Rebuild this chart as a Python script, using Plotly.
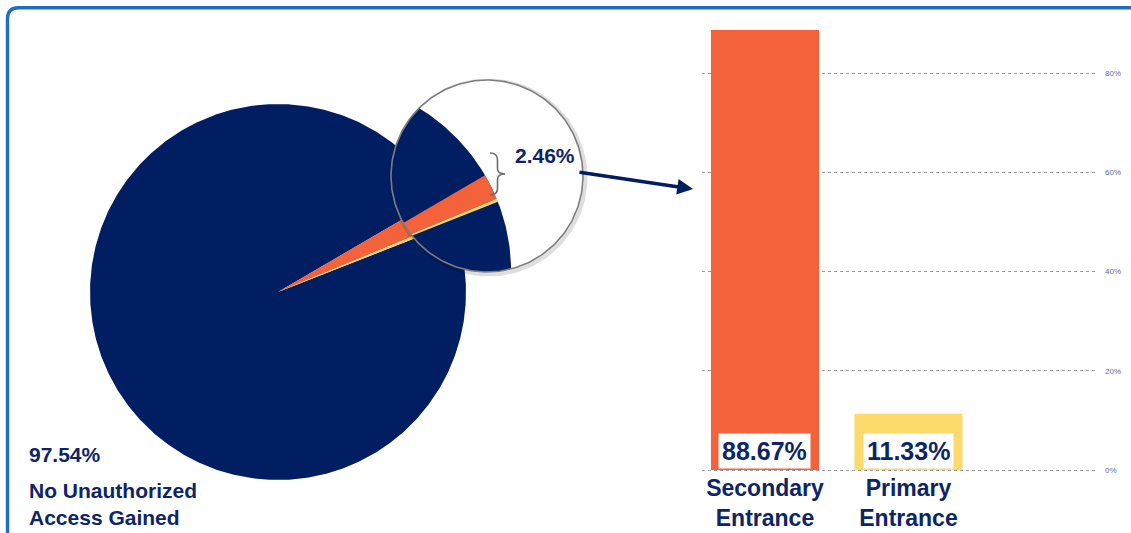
import math
import plotly.graph_objects as go

# ---- data -------------------------------------------------------------
pie_labels = ["No Unauthorized Access Gained", "Unauthorized Access Gained"]
pie_values = [97.54, 2.46]

entry_labels = ["Secondary<br>Entrance", "Primary<br>Entrance"]
entry_values = [88.67, 11.33]

y_ticks = [0, 20, 40, 60, 80]
y_tick_text = ["0%", "20%", "40%", "60%", "80%"]

# ---- styling ----------------------------------------------------------
NAVY = "#011e62"
TEXT_NAVY = "#0d2466"
ORANGE = "#f3623a"
YELLOW = "#fdda6c"
BORDER = "#1c6fc1"
FONT = "Liberation Sans"

W, H = 1131, 533


def Y(py):
    """Screen row -> value on the full-page helper axis (y grows upward)."""
    return H - py


# pie placement on the helper axis (1 unit = 1 px)
CX, CY, R = 278, Y(292), 188
WEDGE_TOP = 30.3          # angle of the upper edge of the small wedge (deg)
# inset circle that shows the small wedge pulled out
LX, LY, LR = 487, Y(176), 96
PULL, LENS_SCALE = 46, 1.02


def arc(cx, cy, r, a0, a1, n=None):
    n = n or max(8, int(abs(a1 - a0) * 2))
    return [(cx + r * math.cos(math.radians(a0 + (a1 - a0) * i / n)),
             cy + r * math.sin(math.radians(a0 + (a1 - a0) * i / n)))
            for i in range(n + 1)]


def sector(cx, cy, r, a0, a1):
    return [(cx, cy)] + arc(cx, cy, r, a0, a1) + [(cx, cy)]


def clip(subject, clipper):
    """Sutherland-Hodgman clip of a polygon by a convex CCW polygon."""
    def inside(p, a, b):
        return (b[0] - a[0]) * (p[1] - a[1]) - (b[1] - a[1]) * (p[0] - a[0]) >= 0

    def cross_pt(s, e, a, b):
        dx1, dy1 = e[0] - s[0], e[1] - s[1]
        dx2, dy2 = b[0] - a[0], b[1] - a[1]
        den = dx1 * dy2 - dy1 * dx2
        t = ((a[0] - s[0]) * dy2 - (a[1] - s[1]) * dx2) / den
        return (s[0] + t * dx1, s[1] + t * dy1)

    out = list(subject)
    for i in range(len(clipper)):
        a, b = clipper[i - 1], clipper[i]
        src, out = out, []
        if not src:
            break
        s = src[-1]
        for p in src:
            if inside(p, a, b):
                if not inside(s, a, b):
                    out.append(cross_pt(s, p, a, b))
                out.append(p)
            elif inside(s, a, b):
                out.append(cross_pt(s, p, a, b))
            s = p
    return out


def poly_trace(pts, color, line_color=None, line_width=0):
    xs = [p[0] for p in pts] + [pts[0][0]]
    ys = [p[1] for p in pts] + [pts[0][1]]
    return go.Scatter(x=xs, y=ys, mode="lines", fill="toself", fillcolor=color,
                      line=dict(color=line_color or color, width=line_width),
                      hoverinfo="skip", showlegend=False, xaxis="x", yaxis="y")


# slice angles derived from the values
share_small = pie_values[1] / sum(pie_values)
span_small = 360 * share_small
span_sec = span_small * entry_values[0] / sum(entry_values)
a_sec0, a_sec1 = WEDGE_TOP - span_sec, WEDGE_TOP
a_pri0, a_pri1 = WEDGE_TOP - span_small, a_sec0
a_big0, a_big1 = WEDGE_TOP, WEDGE_TOP - span_small + 360

fig = go.Figure()

# main pie
fig.add_trace(poly_trace(sector(CX, CY, R, a_big0, a_big1), NAVY))
fig.add_trace(poly_trace(sector(CX, CY, R, a_sec0, a_sec1), ORANGE))
fig.add_trace(poly_trace(sector(CX, CY, R, a_pri0, a_pri1), YELLOW))

# inset circle: soft shadow, white disc
lens = arc(LX, LY, LR, 0, 360, 240)[:-1]
shadow = arc(LX + 1.5, LY - 1.5, LR + 1, 0, 360, 240)
fig.add_trace(go.Scatter(x=[p[0] for p in shadow], y=[p[1] for p in shadow],
                         mode="lines", line=dict(color="rgba(0,0,0,0.13)", width=4),
                         hoverinfo="skip", showlegend=False))
fig.add_trace(poly_trace(lens, "white"))

# pulled-out copy of the wedge, seen through the inset
bis = math.radians(WEDGE_TOP - span_small / 2)
MX, MY = CX + PULL * math.cos(bis), CY + PULL * math.sin(bis)
MR = R * LENS_SCALE
disc = arc(MX, MY, MR, 0, 360, 360)[:-1]
fig.add_trace(poly_trace(clip(disc, lens), NAVY))
fig.add_trace(poly_trace(clip(sector(MX, MY, MR, a_sec0, a_sec1)[:-1], lens), ORANGE))
fig.add_trace(poly_trace(clip(sector(MX, MY, MR, a_pri0, a_pri1)[:-1], lens), YELLOW))

ring = arc(LX, LY, LR, 0, 360, 240)
fig.add_trace(go.Scatter(x=[p[0] for p in ring], y=[p[1] for p in ring], mode="lines",
                         line=dict(color="#7d7d7d", width=1.6),
                         hoverinfo="skip", showlegend=False))

# bar chart of the breakdown
fig.add_trace(go.Bar(x=entry_labels, y=entry_values, width=0.753,
                     marker=dict(color=[ORANGE, YELLOW], line=dict(width=0)),
                     xaxis="x2", yaxis="y2", hoverinfo="skip", showlegend=False))

annotations = []
for lab, val in zip(entry_labels, entry_values):
    annotations.append(dict(
        x=lab, y=0, xref="x2", yref="y2", xanchor="center", yanchor="bottom",
        yshift=1, text=f"{val:.2f}%", showarrow=False, bgcolor="white",
        borderpad=3, font=dict(family=FONT, size=25, color=TEXT_NAVY, weight=700)))

big_label = f"{pie_values[0]:.2f}%"
annotations += [
    dict(x=27, y=Y(454), xref="x", yref="y", xanchor="left", yanchor="middle",
         text=big_label, showarrow=False,
         font=dict(family=FONT, size=21, color=TEXT_NAVY, weight=700)),
    dict(x=27, y=Y(503.5), xref="x", yref="y", xanchor="left", yanchor="middle",
         text="No Unauthorized<br>Access Gained", align="left", showarrow=False,
         font=dict(family=FONT, size=21, color=TEXT_NAVY, weight=700)),
    dict(x=513, y=Y(155), xref="x", yref="y", xanchor="left", yanchor="middle",
         text=f"{pie_values[1]:.2f}%", showarrow=False,
         font=dict(family=FONT, size=21, color=TEXT_NAVY, weight=700)),
    dict(x=693, y=Y(189), xref="x", yref="y", ax=578, ay=Y(172),
         axref="x", ayref="y", text="", showarrow=True, arrowhead=2,
         arrowsize=0.9, arrowwidth=3.5, arrowcolor=NAVY, standoff=0),
]

# curly brace next to the wedge in the inset
bx, bw, bt, bb = 490, 15, 153, 195
bm = (bt + bb) / 2
bh = bb - bt
brace = (f"M {bx},{Y(bt)} Q {bx + bw / 2},{Y(bt)} {bx + bw / 2},{Y(bt + bh * 0.16)} "
         f"L {bx + bw / 2},{Y(bm - bh * 0.13)} Q {bx + bw / 2},{Y(bm)} {bx + bw},{Y(bm)} "
         f"Q {bx + bw / 2},{Y(bm)} {bx + bw / 2},{Y(bm + bh * 0.13)} "
         f"L {bx + bw / 2},{Y(bb - bh * 0.16)} Q {bx + bw / 2},{Y(bb)} {bx},{Y(bb)}")

# rounded frame around the graphic
fr = 11
frame = (f"M {W + 20},{Y(7.7)} L {7.5 + fr},{Y(7.7)} "
         f"Q 7.5,{Y(7.7)} 7.5,{Y(7.7 + fr)} L 7.5,{Y(H + 20)}")

shapes = [
    dict(type="path", path=brace, xref="x", yref="y",
         line=dict(color="#6b6b6b", width=1.6)),
    dict(type="path", path=frame, xref="x", yref="y",
         line=dict(color=BORDER, width=3.4)),
]

# bar axis geometry: 0 % sits on row 470, 80 % on row 73
y_lo, y_hi = -0.5, 90
px_per_unit = (470 - 73) / 80
px_lo, px_hi = 470 - y_lo * px_per_unit, 470 - y_hi * px_per_unit
fig.update_layout(
    width=W, height=H, margin=dict(l=0, r=0, t=0, b=0, autoexpand=False),
    paper_bgcolor="white", plot_bgcolor="rgba(0,0,0,0)",
    xaxis=dict(range=[0, W], domain=[0, 1], visible=False, fixedrange=True,
               automargin=False),
    yaxis=dict(range=[0, H], domain=[0, 1], visible=False, fixedrange=True,
               automargin=False),
    xaxis2=dict(domain=[702 / W, 1097 / W], anchor="y2", type="category",
                range=[-0.439, 2.314], showgrid=False, showline=False,
                ticks="", zeroline=False, ticklabelstandoff=0, automargin=False,
                tickfont=dict(family=FONT, size=23, color=TEXT_NAVY, weight=700)),
    yaxis2=dict(domain=[(H - px_lo) / H, (H - px_hi) / H], anchor="x2", side="right",
                range=[y_lo, y_hi], tickvals=y_ticks, ticktext=y_tick_text,
                showgrid=True, gridcolor="#9c9c9c", griddash="dot", gridwidth=1,
                zeroline=False, showline=False, ticks="", ticklabelstandoff=7,
                automargin=False,
                tickfont=dict(family=FONT, size=8, color="#5a6ca6")),
    annotations=annotations,
    shapes=shapes,
    showlegend=False,
)

fig.write_html("out.html")
